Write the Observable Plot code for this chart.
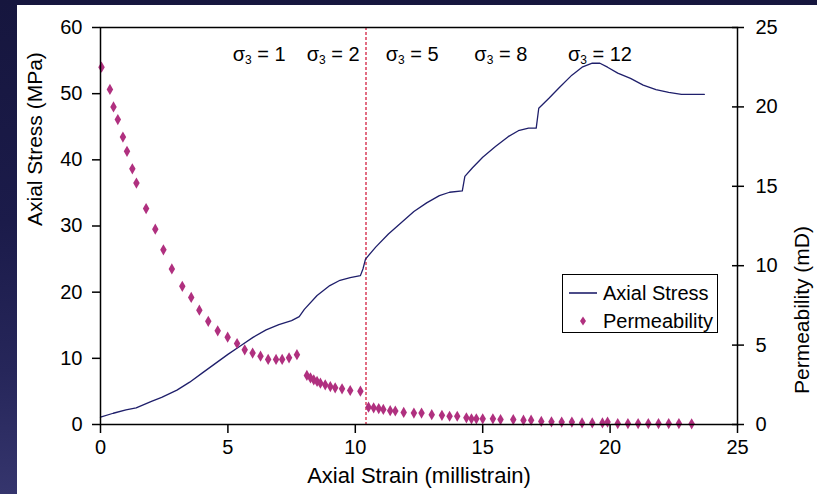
<!DOCTYPE html>
<html>
<head>
<meta charset="utf-8">
<script src="https://cdn.jsdelivr.net/npm/d3@7"></script>
<script src="https://cdn.jsdelivr.net/npm/@observablehq/plot@0.6"></script>
<style>
  html, body { margin: 0; padding: 0; }
  body {
    width: 817px; height: 494px; overflow: hidden; position: relative;
    background: linear-gradient(180deg, #16163e 0%, #1b1b4a 45%, #26265a 75%, #35356d 100%);
    font-family: 'Liberation Sans', Arial, sans-serif;
  }
  #panel { position: absolute; left: 17px; top: 5px; width: 800px; height: 489px; background: #fff; }
  #legend { position: absolute; left: 545px; top: 269px; width: 156px; height: 59px;
    border: 1.5px solid #000; background: #fff; box-sizing: border-box; font-size: 20px; color: #000; }
  #legend .row { position: absolute; left: 0; height: 24px; line-height: 24px; }
  #legend .lab { position: absolute; left: 40px; white-space: nowrap; }
</style>
</head>
<body>
<div id="panel">
  <div id="chart"></div>
  <div id="legend">
    <div class="row" style="top:6px;width:100%">
      <svg width="40" height="24" style="position:absolute;left:0;top:0"><line x1="6" x2="34" y1="12" y2="12" stroke="#1f1f6b" stroke-width="1.6"/></svg>
      <span class="lab">Axial Stress</span>
    </div>
    <div class="row" style="top:34px;width:100%">
      <svg width="40" height="24" style="position:absolute;left:0;top:0"><path d="M20,7.5L23,12L20,16.5L17,12Z" fill="#b0307f"/></svg>
      <span class="lab">Permeability</span>
    </div>
  </div>
</div>
<script>
// ---- Data ----
const stressStrain = [0, 0.5, 1.0, 1.4, 2.0, 2.4, 3.0, 3.5, 4.0, 4.5, 5.0, 5.5, 6.0, 6.5, 7.0, 7.5, 7.8, 8.0, 8.5, 9.0, 9.4, 9.8, 10.2, 10.3, 10.4, 10.8, 11.3, 11.8, 12.3, 12.8, 13.3, 13.7, 14.2, 14.3, 14.6, 15.0, 15.5, 16.0, 16.4, 16.8, 17.1, 17.2, 17.6, 18.0, 18.5, 18.9, 19.3, 19.6, 19.9, 20.3, 20.8, 21.3, 21.8, 22.3, 22.8, 23.7];
const stressValues = [1.1, 1.7, 2.2, 2.5, 3.5, 4.1, 5.2, 6.4, 7.8, 9.2, 10.6, 11.9, 13.2, 14.3, 15.1, 15.7, 16.3, 17.4, 19.5, 21.0, 21.8, 22.2, 22.5, 23.5, 25.0, 26.8, 28.8, 30.5, 32.2, 33.5, 34.6, 35.1, 35.3, 37.5, 38.8, 40.4, 42.0, 43.5, 44.4, 44.8, 44.8, 47.8, 49.3, 50.9, 52.8, 54.0, 54.6, 54.6, 54.0, 53.1, 52.3, 51.3, 50.6, 50.2, 49.9, 49.9];

const permStrain = [0.04, 0.37, 0.51, 0.68, 0.88, 1.04, 1.25, 1.41, 1.79, 2.15, 2.47, 2.80, 3.21, 3.56, 3.88, 4.23, 4.60, 4.99, 5.36, 5.66, 5.97, 6.28, 6.58, 6.89, 7.13, 7.40, 7.71,
  8.10, 8.24, 8.37, 8.50, 8.63, 8.82, 9.02, 9.21, 9.48, 9.80, 10.20,
  10.52, 10.72, 10.92, 11.10, 11.37, 11.57, 11.90, 12.30, 12.60, 13.00, 13.40, 13.70, 14.00, 14.36, 14.56, 14.75, 15.00, 15.40, 15.70, 16.20, 16.60, 16.90, 17.30, 17.70, 18.10, 18.50, 18.90, 19.30, 19.70, 19.90, 20.30, 20.70, 21.10, 21.50, 21.90, 22.30, 22.70, 23.20];
const permValues = [22.5, 21.1, 20.0, 19.2, 18.1, 17.2, 16.1, 15.2, 13.6, 12.3, 11.0, 9.8, 8.7, 8.0, 7.2, 6.5, 5.9, 5.5, 5.1, 4.7, 4.5, 4.3, 4.1, 4.1, 4.1, 4.2, 4.4,
  3.09, 2.94, 2.81, 2.71, 2.60, 2.50, 2.39, 2.31, 2.25, 2.14, 2.10,
  1.09, 1.05, 1.00, 0.95, 0.87, 0.85, 0.76, 0.72, 0.72, 0.62, 0.58, 0.52, 0.52, 0.42, 0.36, 0.36, 0.36, 0.36, 0.31, 0.31, 0.27, 0.27, 0.19, 0.17, 0.15, 0.15, 0.10, 0.10, 0.10, 0.15, 0.06, 0.06, 0.06, 0.06, 0.06, 0.06, 0.06, 0.04];

const sigmaLabels = ["σ3 = 1", "σ3 = 2", "σ3 = 5", "σ3 = 8", "σ3 = 12"];
const sigmaX = [6.23, 9.13, 12.23, 15.71, 19.6];
const confinementChangeX = [10.42];

const xTicks = [0, 5, 10, 15, 20, 25];
const stressTicks = [0, 10, 20, 30, 40, 50, 60];
const permTicks = [0, 5, 10, 15, 20, 25];
const stressMax = 60, permMax = 25;

// ---- Build ----
const K = stressMax / permMax;
const stressData = stressStrain.map((x, i) => ({x, y: stressValues[i]}));
const permData = permStrain.map((x, i) => ({x, p: permValues[i]}));
const sigmaData = sigmaLabels.map((t, i) => ({t, x: sigmaX[i]}));

const chart = Plot.plot({
  width: 800, height: 489,
  marginLeft: 83, marginRight: 80, marginTop: 22, marginBottom: 70,
  style: {fontFamily: "'Liberation Sans', Arial, sans-serif", fontSize: "20px", color: "#000", background: "#fff", overflow: "visible"},
  x: {domain: [0, 25]},
  y: {domain: [0, stressMax]},
  marks: [
    Plot.axisX(xTicks, {tickSize: 9, tickPadding: 6, label: null, fontSize: 20, strokeWidth: 1.5}),
    Plot.axisY(stressTicks, {anchor: "left", tickSize: 8, tickPadding: 10, label: null, fontSize: 20, strokeWidth: 1.5}),
    Plot.axisY(permTicks.map(d => d * K), {anchor: "right", tickFormat: d => String(Math.round(d / K)), tickSize: 12, dx: -6, tickPadding: 12, label: null, fontSize: 20, strokeWidth: 1.5}),
    Plot.ruleX(confinementChangeX, {stroke: "#d6304f", strokeDasharray: "3,2", strokeWidth: 1.4}),
    Plot.line(stressData, {x: "x", y: "y", stroke: "#1f1f6b", strokeWidth: 1.3}),
    Plot.dot(permData, {x: "x", y: d => d.p * K, symbol: "diamond", r: 3.4, fill: "#b0307f", stroke: "none"}),
    Plot.frame({stroke: "#000", strokeWidth: 1.5}),
    Plot.text(sigmaData, {x: "x", frameAnchor: "top", dy: 19, text: "t", fontSize: 20, fill: "#000"}),
    Plot.text(["Axial Strain (millistrain)"], {frameAnchor: "bottom", dy: 58, text: d => d, fontSize: 22, fill: "#000"}),
    Plot.text(["Axial Stress (MPa)"], {frameAnchor: "left", dx: -65, rotate: -90, text: d => d, fontSize: 21, fill: "#000"}),
    Plot.text(["Permeability (mD)"], {frameAnchor: "right", dx: 65, rotate: -90, text: d => d, fontSize: 21, fill: "#000"})
  ]
});
document.getElementById("chart").appendChild(chart);

// subscript for σ3 labels
chart.querySelectorAll("text").forEach(t => {
  const s = t.textContent;
  if (s.startsWith("σ3")) {
    const rest = s.slice(2);
    while (t.firstChild) t.removeChild(t.firstChild);
    const ns = "http://www.w3.org/2000/svg";
    const a = document.createElementNS(ns, "tspan"); a.textContent = "σ";
    const b = document.createElementNS(ns, "tspan"); b.textContent = "3"; b.setAttribute("dy", "3"); b.setAttribute("font-size", "12");
    const c = document.createElementNS(ns, "tspan"); c.textContent = rest; c.setAttribute("dy", "-3");
    t.appendChild(a); t.appendChild(b); t.appendChild(c);
  }
});
</script>
</body>
</html>
